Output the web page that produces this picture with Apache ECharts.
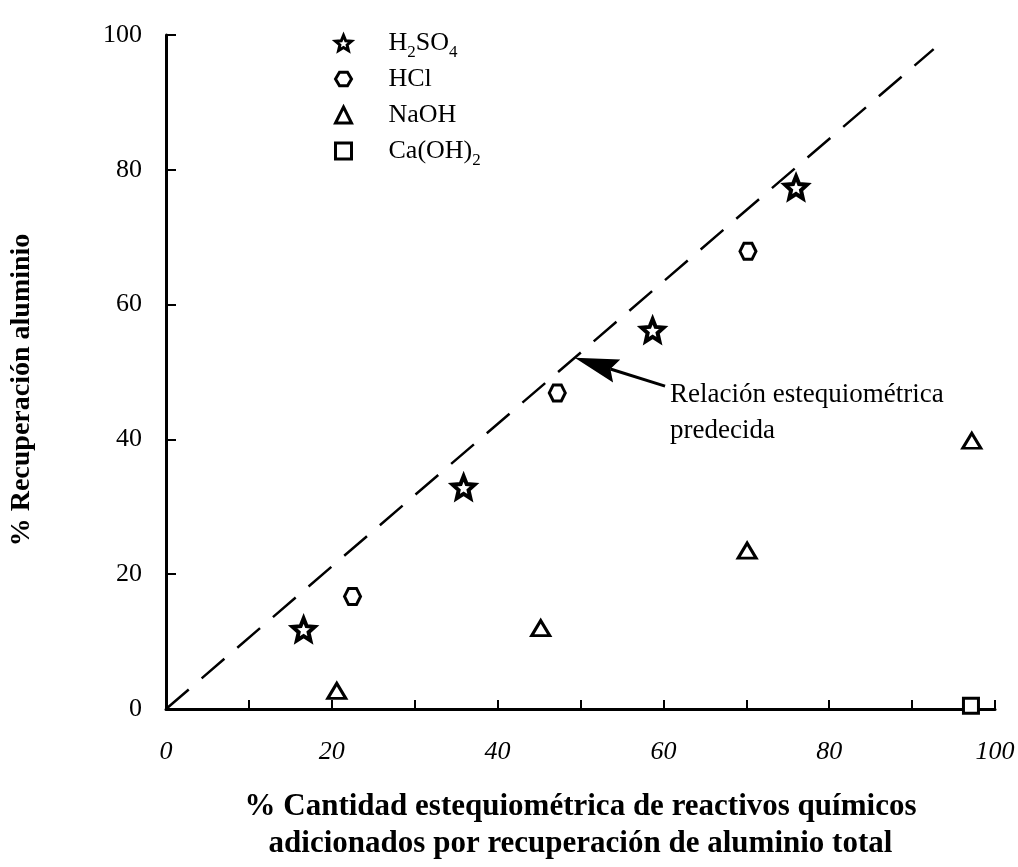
<!DOCTYPE html>
<html>
<head>
<meta charset="utf-8">
<script src="https://cdn.jsdelivr.net/npm/echarts@6/dist/echarts.min.js"></script>
<style>
  html, body { margin: 0; padding: 0; background: #fff; }
  #chart { width: 1018px; height: 867px; }
</style>
</head>
<body>
<div id="chart"></div>
<script>
// datos
var h2so4X = [16.6, 35.9, 58.7, 76.0]
var h2so4Y = [11.8, 32.9, 56.2, 77.4]
var hclX = [22.5, 47.2, 70.2]
var hclY = [16.7, 46.9, 67.9]
var naohX = [20.6, 45.2, 70.1, 97.2]
var naohY = [2.7, 12.0, 23.5, 39.8]
var caX = [97.1]
var caY = [0.5]
// relacion estequiometrica predecida (linea discontinua)
var lineX = [0, 92.6]
var lineY = [0, 97.9]
// flecha de anotacion: cola -> punta
var arrowX = [60.2, 49.3]
var arrowY = [47.9, 52.1]
var seriesNames = ['H2SO4', 'HCl', 'NaOH', 'Ca(OH)2']
var legendText = {
  'H2SO4': 'H{s|2}SO{s|4}',
  'HCl': 'HCl',
  'NaOH': 'NaOH',
  'Ca(OH)2': 'Ca(OH){s|2}'
}

var serif = '"Liberation Serif", "Times New Roman", serif'
var starPath = 'path://M10,0 L12.65,6.36 L19.51,6.91 L14.28,11.39 L15.88,18.09 L10,14.5 L4.12,18.09 L5.72,11.39 L0.49,6.91 L7.35,6.36 Z'
var hexPath = 'path://M0,5 L3,0 L9,0 L12,5 L9,10 L3,10 Z'

function pairs(xs, ys) {
  var out = []
  for (var i = 0; i < xs.length; i++) {
    out.push([xs[i], ys[i]])
  }
  return out
}

var chart = echarts.init(document.getElementById('chart'))

var mkStyle = {color: '#fff', borderColor: '#000', borderWidth: 3, opacity: 1}

var option = {
  animation: false,
  backgroundColor: '#fff',
  grid: {left: 166, right: 23, top: 35, bottom: 154},
  legend: {
    data: seriesNames,
    orient: 'vertical',
    left: 334,
    top: 25,
    padding: 0,
    itemGap: 0,
    itemWidth: 16,
    itemHeight: 16,
    itemStyle: {borderWidth: 3, borderColor: '#000'},
    formatter: function (name) { return legendText[name] },
    textStyle: {
      fontFamily: serif,
      fontSize: 26,
      lineHeight: 36,
      color: '#000',
      padding: [0, 0, 0, 32],
      rich: {
        s: {fontFamily: serif, fontSize: 17, lineHeight: 20, verticalAlign: 'bottom', color: '#000'}
      }
    }
  },
  xAxis: {
    type: 'value',
    min: 0,
    max: 100,
    interval: 10,
    name: '% Cantidad estequiométrica de reactivos químicos\nadicionados por recuperación de aluminio total',
    nameLocation: 'middle',
    nameGap: 79,
    nameTextStyle: {fontFamily: serif, fontWeight: 'bold', fontSize: 31, lineHeight: 37, color: '#000'},
    splitLine: {show: false},
    axisLine: {lineStyle: {color: '#000', width: 3}},
    axisTick: {inside: true, length: 9, lineStyle: {color: '#000', width: 2}},
    axisLabel: {
      margin: 30,
      fontFamily: serif,
      fontStyle: 'italic',
      fontSize: 26,
      color: '#000',
      formatter: function (v) { return v % 20 === 0 ? v : '' }
    }
  },
  yAxis: {
    type: 'value',
    min: 0,
    max: 100,
    interval: 20,
    name: '% Recuperación aluminio',
    nameLocation: 'middle',
    nameRotate: 90,
    nameGap: 130,
    nameTextStyle: {fontFamily: serif, fontWeight: 'bold', fontSize: 28, color: '#000', padding: [0, 36, 0, 0]},
    splitLine: {show: false},
    axisLine: {lineStyle: {color: '#000', width: 3}},
    axisTick: {inside: true, length: 10, lineStyle: {color: '#000', width: 2}},
    axisLabel: {margin: 24, fontFamily: serif, fontSize: 26, color: '#000'}
  },
  series: [
    {
      name: 'linea',
      type: 'line',
      data: pairs(lineX, lineY),
      symbol: 'none',
      silent: true,
      z: 1,
      lineStyle: {color: '#000', width: 2.5, type: [30, 17]}
    },
    {
      name: 'H2SO4',
      type: 'scatter',
      data: pairs(h2so4X, h2so4Y),
      symbol: starPath,
      symbolSize: 22,
      itemStyle: {color: '#fff', borderColor: '#000', borderWidth: 4, opacity: 1}
    },
    {
      name: 'HCl',
      type: 'scatter',
      data: pairs(hclX, hclY),
      symbol: hexPath,
      symbolSize: [16, 16],
      itemStyle: mkStyle
    },
    {
      name: 'NaOH',
      type: 'scatter',
      data: pairs(naohX, naohY),
      symbol: 'triangle',
      symbolSize: [18, 15],
      itemStyle: mkStyle
    },
    {
      name: 'Ca(OH)2',
      type: 'scatter',
      data: pairs(caX, caY),
      symbol: 'rect',
      symbolSize: 15,
      itemStyle: mkStyle
    }
  ]
}

option && chart.setOption(option)

// flecha y texto de la anotacion, ubicados con la escala del grafico
var tail = chart.convertToPixel({gridIndex: 0}, [arrowX[0], arrowY[0]])
var tip = chart.convertToPixel({gridIndex: 0}, [arrowX[1], arrowY[1]])
var dx = tail[0] - tip[0], dy = tail[1] - tip[1]
var len = Math.sqrt(dx * dx + dy * dy)
var ux = dx / len, uy = dy / len
var nx = -uy, ny = ux
var headL = 44, headW = 12
var base = [tip[0] + ux * headL, tip[1] + uy * headL]
var notch = [tip[0] + ux * headL * 0.85, tip[1] + uy * headL * 0.85]

chart.setOption({
  graphic: [
    {
      type: 'line',
      shape: {x1: tail[0], y1: tail[1], x2: notch[0], y2: notch[1]},
      style: {stroke: '#000', lineWidth: 3}
    },
    {
      type: 'polygon',
      shape: {points: [
        tip,
        [base[0] + nx * headW, base[1] + ny * headW],
        notch,
        [base[0] - nx * headW, base[1] - ny * headW]
      ]},
      style: {fill: '#000'}
    },
    {
      type: 'text',
      x: tail[0] + 5,
      y: tail[1] - 9,
      style: {
        text: 'Relación estequiométrica\npredecida',
        font: '27px ' + serif,
        lineHeight: 36,
        fill: '#000',
        verticalAlign: 'top'
      }
    }
  ]
})
</script>
</body>
</html>
